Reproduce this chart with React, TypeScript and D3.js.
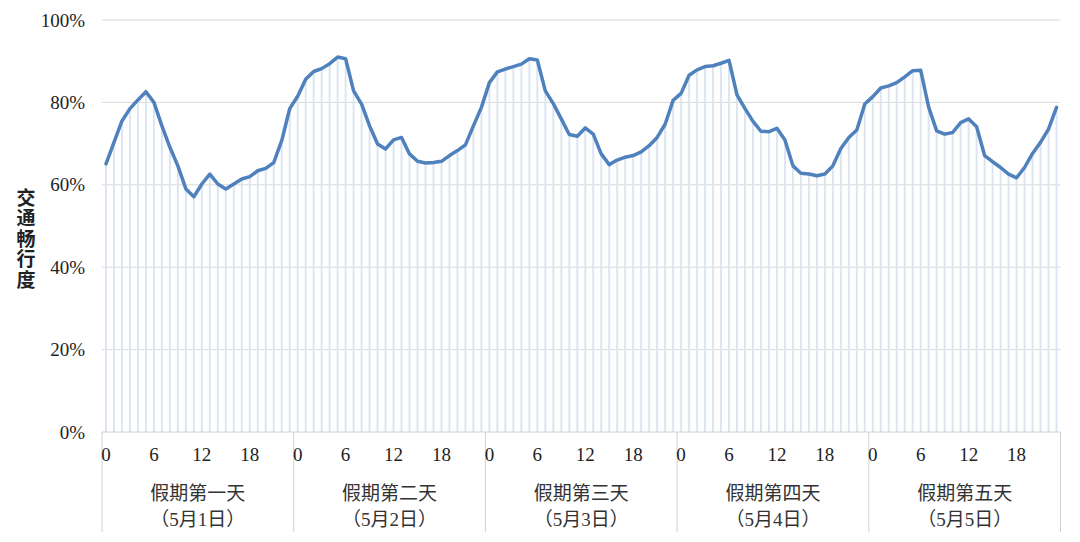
import React from "react";
import * as d3 from "d3";

const dayLabels = ["假期第一天", "假期第二天", "假期第三天", "假期第四天", "假期第五天"];
const dateLabels = ["（5月1日）", "（5月2日）", "（5月3日）", "（5月4日）", "（5月5日）"];
const hourTicks = [0, 6, 12, 18];
const yTicks = [0, 0.2, 0.4, 0.6, 0.8, 1.0];

const day1 = [65.1, 70.3, 75.5, 78.5, 80.6, 82.6, 80.0, 74.3, 69.1, 64.6, 59.0, 57.1, 60.2, 62.6, 60.2, 59.0, 60.2, 61.4, 62.0, 63.4, 64.0, 65.4, 70.7, 78.5];
const day2 = [81.5, 85.6, 87.5, 88.2, 89.4, 91.0, 90.6, 82.8, 79.6, 74.3, 69.9, 68.7, 70.9, 71.5, 67.5, 65.7, 65.3, 65.4, 65.7, 67.1, 68.3, 69.7, 74.3, 78.8];
const day3 = [84.8, 87.4, 88.1, 88.7, 89.3, 90.6, 90.3, 82.8, 79.7, 76.0, 72.2, 71.8, 73.8, 72.3, 67.5, 64.9, 66.0, 66.7, 67.1, 68.0, 69.5, 71.5, 74.7, 80.5];
const day4 = [82.2, 86.6, 87.9, 88.7, 88.9, 89.5, 90.2, 81.8, 78.5, 75.4, 73.0, 72.9, 73.7, 70.9, 64.6, 62.8, 62.6, 62.2, 62.6, 64.6, 68.8, 71.5, 73.3, 79.6];
const day5 = [81.4, 83.5, 84.0, 84.8, 86.2, 87.7, 87.8, 78.8, 73.1, 72.3, 72.7, 75.1, 76.0, 74.1, 67.1, 65.6, 64.2, 62.6, 61.7, 64.2, 67.6, 70.3, 73.5, 78.8];

const days = [day1, day2, day3, day4, day5];

export default function App() {
  const W = 1080, H = 542;
  const left = 102, right = 1060.5, top = 20, bottom = 432;
  const points = days.flatMap((d, di) => d.map((v, h) => ({ key: `${di}-${h}`, day: di, hour: h, v: v / 100 })));
  const x = d3.scaleBand<string>().domain(points.map(p => p.key)).range([left, right]);
  const y = d3.scaleLinear().domain([0, 1]).range([bottom, top]);
  const cx = (k: string) => (x(k) as number) + x.bandwidth() / 2;
  const line = d3.line<typeof points[0]>().x(p => cx(p.key)).y(p => y(p.v));
  const dayW = (right - left) / days.length;
  const serif = "'Liberation Serif', 'Times New Roman', serif";
  const cjk = "'Liberation Serif', 'Noto Sans CJK SC', serif";
  const title = "交通畅行度".split("");

  return (
    <svg width={W} height={H} style={{ position: "absolute", left: 0, top: 0, background: "#fff" }}>
      {yTicks.map(t => (
        <g key={t}>
          {t > 0 && <line x1={left} x2={right} y1={y(t)} y2={y(t)} stroke="#d9d9d9" strokeWidth={1} />}
          <text x={85} y={y(t)} dy="0.35em" textAnchor="end" fontFamily={serif} fontSize={19} fill="#222">
            {d3.format(".0%")(t)}
          </text>
        </g>
      ))}
      {points.map(p => (
        <line key={p.key} x1={cx(p.key)} x2={cx(p.key)} y1={y(p.v)} y2={bottom} stroke="#dce6f2" strokeWidth={2} />
      ))}
      <line x1={left} x2={right} y1={bottom} y2={bottom} stroke="#d0d0d0" strokeWidth={1} />
      {d3.range(days.length + 1).map(i => (
        <line key={i} x1={left + i * dayW} x2={left + i * dayW} y1={bottom} y2={532} stroke="#d0d0d0" strokeWidth={1} />
      ))}
      <path d={line(points) || ""} fill="none" stroke="#4f81bd" strokeWidth={3.5} strokeLinejoin="round" strokeLinecap="round" />
      {days.map((d, di) => (
        <g key={di}>
          {hourTicks.map(h => (
            <text key={h} x={cx(`${di}-${h}`)} y={454} dy="0.35em" textAnchor="middle" fontFamily={serif} fontSize={19} fill="#222">
              {h}
            </text>
          ))}
          <text x={left + (di + 0.5) * dayW} y={493} dy="0.35em" textAnchor="middle" fontFamily={cjk} fontSize={19} fill="#333">
            {dayLabels[di]}
          </text>
          <text x={left + (di + 0.5) * dayW} y={519} dy="0.35em" textAnchor="middle" fontFamily={cjk} fontSize={19} fill="#333">
            {dateLabels[di]}
          </text>
        </g>
      ))}
      {title.map((c, i) => (
        <text key={i} x={26} y={198 + i * 20.5} dy="0.35em" textAnchor="middle" fontFamily={cjk} fontSize={19} fontWeight="bold" fill="#222">
          {c}
        </text>
      ))}
    </svg>
  );
}
